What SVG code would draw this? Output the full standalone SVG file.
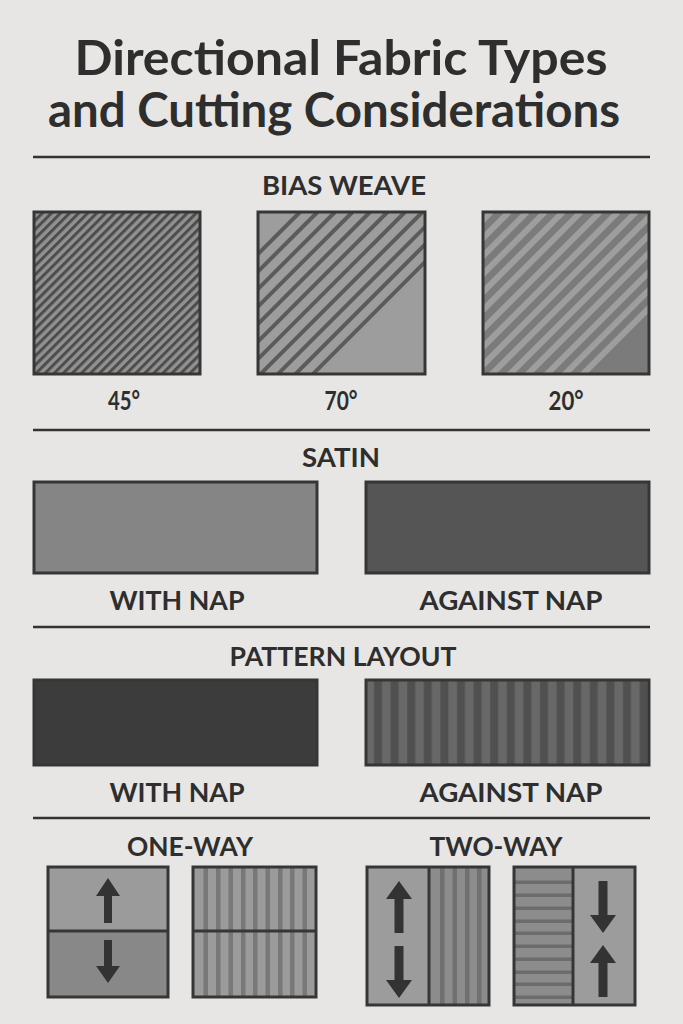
<svg xmlns="http://www.w3.org/2000/svg" width="683" height="1024" viewBox="0 0 683 1024">
<style>
.t{font-family:Lato,"Open Sans","Liberation Sans",sans-serif;font-weight:700;fill:#2e2e2e;text-anchor:middle}
.title{font-size:48px}
.h{font-size:26px}
.rule{stroke:#333;stroke-width:2.5}
.box{stroke:#363636;stroke-width:3}
.arrow{fill:#333}
</style>
<defs>
<pattern id="p45" patternUnits="userSpaceOnUse" width="6.4" height="20" patternTransform="rotate(45)">
<rect width="6.4" height="20" fill="#919191"/>
<rect width="3" height="20" fill="#4d4d4d"/>
</pattern>
<pattern id="pvert" patternUnits="userSpaceOnUse" x="366" width="16.6" height="20">
<rect width="16.6" height="20" fill="#686868"/>
<rect x="8" width="8" height="20" fill="#505050"/>
</pattern>
<clipPath id="c2"><rect x="258" y="212" width="167" height="162"/></clipPath>
<clipPath id="c3"><rect x="483" y="212" width="166" height="162"/></clipPath>
</defs>
<rect width="683" height="1024" fill="#e7e6e4"/>

<g id="title">
<text class="t title" x="341" y="75" textLength="533" lengthAdjust="spacingAndGlyphs">Directional Fabric Types</text>
<text class="t title" x="334" y="127" textLength="572" lengthAdjust="spacingAndGlyphs">and Cutting Considerations</text>
</g>

<g id="rules">
<line class="rule" x1="33" y1="157" x2="650" y2="157"/>
<line class="rule" x1="33" y1="430" x2="650" y2="430"/>
<line class="rule" x1="33" y1="627" x2="650" y2="627"/>
<line class="rule" x1="33" y1="818" x2="650" y2="818"/>
</g>

<g id="bias-weave">
<text class="t h" x="344" y="195" textLength="164" lengthAdjust="spacingAndGlyphs">BIAS WEAVE</text>
<g id="bias-45">
<rect class="box" x="34" y="212" width="166" height="162" fill="url(#p45)"/>
<text class="t h" x="124" y="410" textLength="32" lengthAdjust="spacingAndGlyphs">45°</text>
</g>
<g id="bias-70">
<rect x="258" y="212" width="167" height="162" fill="#9d9d9d"/>
<g clip-path="url(#c2)" stroke="#5b5b5b" stroke-width="4">
<line x1="300" y1="212" x2="100" y2="412"/>
<line x1="317.5" y1="212" x2="117.5" y2="412"/>
<line x1="335" y1="212" x2="135" y2="412"/>
<line x1="352.5" y1="212" x2="152.5" y2="412"/>
<line x1="370" y1="212" x2="170" y2="412"/>
<line x1="387.5" y1="212" x2="187.5" y2="412"/>
<line x1="405" y1="212" x2="205" y2="412"/>
<line x1="422.5" y1="212" x2="222.5" y2="412"/>
<line x1="440" y1="212" x2="240" y2="412"/>
<line x1="457.5" y1="212" x2="257.5" y2="412"/>
<line x1="475" y1="212" x2="275" y2="412"/>
</g>
<rect class="box" x="258" y="212" width="167" height="162" fill="none"/>
<text class="t h" x="341" y="410" textLength="33" lengthAdjust="spacingAndGlyphs">70°</text>
</g>
<g id="bias-20">
<rect x="483" y="212" width="166" height="162" fill="#7b7b7b"/>
<g clip-path="url(#c3)" stroke="#9e9e9e" stroke-width="6">
<line x1="491" y1="212" x2="291" y2="412"/>
<line x1="509" y1="212" x2="309" y2="412"/>
<line x1="527" y1="212" x2="327" y2="412"/>
<line x1="545" y1="212" x2="345" y2="412"/>
<line x1="563" y1="212" x2="363" y2="412"/>
<line x1="581" y1="212" x2="381" y2="412"/>
<line x1="600" y1="212" x2="400" y2="412"/>
<line x1="618" y1="212" x2="418" y2="412"/>
<line x1="636" y1="212" x2="436" y2="412"/>
<line x1="654" y1="212" x2="454" y2="412"/>
<line x1="672" y1="212" x2="472" y2="412"/>
<line x1="690" y1="212" x2="490" y2="412"/>
<line x1="709" y1="212" x2="509" y2="412"/>
<line x1="727" y1="212" x2="527" y2="412"/>
<line x1="745" y1="212" x2="545" y2="412"/>
</g>
<rect class="box" x="483" y="212" width="166" height="162" fill="none"/>
<text class="t h" x="566" y="410" textLength="35" lengthAdjust="spacingAndGlyphs">20°</text>
</g>
</g>

<g id="satin">
<text class="t h" x="341" y="467" textLength="78" lengthAdjust="spacingAndGlyphs">SATIN</text>
<g id="satin-with">
<rect class="box" x="34" y="482" width="283" height="91" fill="#858585"/>
<text class="t h" x="177" y="610" textLength="135" lengthAdjust="spacingAndGlyphs">WITH NAP</text>
</g>
<g id="satin-against">
<rect class="box" x="366" y="482" width="283" height="91" fill="#555555"/>
<text class="t h" x="511" y="610" textLength="183" lengthAdjust="spacingAndGlyphs">AGAINST NAP</text>
</g>
</g>

<g id="pattern-layout">
<text class="t h" x="343" y="666" textLength="227" lengthAdjust="spacingAndGlyphs">PATTERN LAYOUT</text>
<g id="layout-with">
<rect class="box" x="34" y="680" width="283" height="85" fill="#3c3c3c"/>
<text class="t h" x="177" y="802" textLength="135" lengthAdjust="spacingAndGlyphs">WITH NAP</text>
</g>
<g id="layout-against">
<rect class="box" x="366" y="680" width="283" height="85" fill="url(#pvert)"/>
<text class="t h" x="511" y="802" textLength="183" lengthAdjust="spacingAndGlyphs">AGAINST NAP</text>
</g>
</g>

<g id="one-way">
<text class="t h" x="190" y="856" textLength="126" lengthAdjust="spacingAndGlyphs">ONE-WAY</text>
<g id="one-way-arrows">
<rect x="48" y="867" width="120" height="64" fill="#9b9b9b"/>
<rect x="48" y="931" width="120" height="66" fill="#888888"/>
<rect class="box" x="48" y="867" width="120" height="130" fill="none"/>
<line class="box" x1="48" y1="931" x2="168" y2="931"/>
<path class="arrow" d="M108 878 L120 896 L112 896 L112 923 L104 923 L104 896 L96 896 Z"/>
<path class="arrow" d="M108 983 L120 966 L112 966 L112 940 L104 940 L104 966 L96 966 Z"/>
</g>
<g id="one-way-stripes">
<rect x="193" y="867" width="123" height="130" fill="#9b9b9b"/>
<g fill="#787878">
<rect x="203.5" y="867" width="4.5" height="130"/>
<rect x="216" y="867" width="4.5" height="130"/>
<rect x="228.5" y="867" width="4.5" height="130"/>
<rect x="241" y="867" width="4.5" height="130"/>
<rect x="253" y="867" width="4.5" height="130"/>
<rect x="265.5" y="867" width="4.5" height="130"/>
<rect x="278" y="867" width="4.5" height="130"/>
<rect x="290" y="867" width="4.5" height="130"/>
<rect x="302.5" y="867" width="4.5" height="130"/>
</g>
<rect class="box" x="193" y="867" width="123" height="130" fill="none"/>
<line class="box" x1="193" y1="931" x2="316" y2="931"/>
</g>
</g>

<g id="two-way">
<text class="t h" x="496" y="856" textLength="133" lengthAdjust="spacingAndGlyphs">TWO-WAY</text>
<g id="two-way-left">
<rect x="367" y="867" width="62" height="138" fill="#9c9c9c"/>
<rect x="429" y="867" width="60" height="138" fill="#8c8c8c"/>
<g fill="#707070">
<rect x="440" y="867" width="4.5" height="138"/>
<rect x="452.5" y="867" width="4.5" height="138"/>
<rect x="465" y="867" width="4.5" height="138"/>
<rect x="477" y="867" width="4.5" height="138"/>
</g>
<rect class="box" x="367" y="867" width="122" height="138" fill="none"/>
<line class="box" x1="429" y1="867" x2="429" y2="1005"/>
<path class="arrow" d="M399 881 L412 899 L403.5 899 L403.5 933 L394.5 933 L394.5 899 L386 899 Z"/>
<path class="arrow" d="M399 998 L412 980 L403.5 980 L403.5 946 L394.5 946 L394.5 980 L386 980 Z"/>
</g>
<g id="two-way-right">
<rect x="514" y="867" width="59" height="138" fill="#8c8c8c"/>
<rect x="573" y="867" width="62" height="138" fill="#9c9c9c"/>
<g fill="#6c6c6c">
<rect x="514" y="880.5" width="59" height="3.5"/>
<rect x="514" y="893.5" width="59" height="3.5"/>
<rect x="514" y="906.5" width="59" height="3.5"/>
<rect x="514" y="919.5" width="59" height="3.5"/>
<rect x="514" y="931.5" width="59" height="3.5"/>
<rect x="514" y="944.5" width="59" height="3.5"/>
<rect x="514" y="957.5" width="59" height="3.5"/>
<rect x="514" y="970.5" width="59" height="3.5"/>
<rect x="514" y="982.5" width="59" height="3.5"/>
<rect x="514" y="995.5" width="59" height="3.5"/>
</g>
<rect class="box" x="514" y="867" width="121" height="138" fill="none"/>
<line class="box" x1="573" y1="867" x2="573" y2="1005"/>
<path class="arrow" d="M603 933 L616 915 L607.5 915 L607.5 881 L598.5 881 L598.5 915 L590 915 Z"/>
<path class="arrow" d="M603 945 L616 963 L607.5 963 L607.5 997 L598.5 997 L598.5 963 L590 963 Z"/>
</g>
</g>
</svg>
